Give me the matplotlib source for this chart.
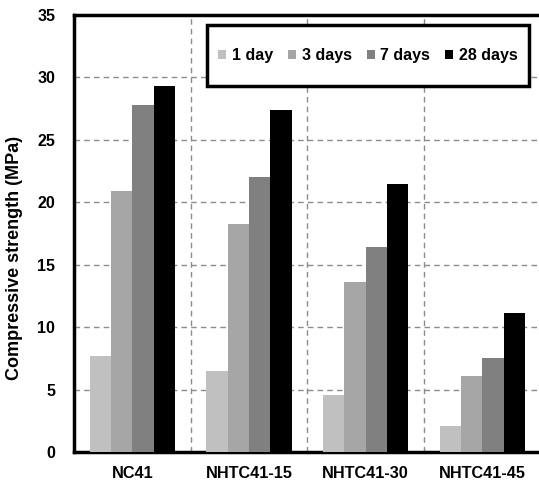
import numpy as np
import matplotlib
matplotlib.use('Agg')
import matplotlib.pyplot as plt
from matplotlib.patches import Rectangle

plt.rcParams['font.family'] = ['Liberation Sans', 'DejaVu Sans']
plt.rcParams['font.weight'] = 'bold'

mixes = ['NC41', 'NHTC41-15', 'NHTC41-30', 'NHTC41-45']
ages = ['1 day', '3 days', '7 days', '28 days']
strength_1d = [7.7, 6.5, 4.6, 2.1]
strength_3d = [20.9, 18.3, 13.6, 6.1]
strength_7d = [27.8, 22.0, 16.4, 7.5]
strength_28d = [29.3, 27.4, 21.5, 11.1]
colors = ['#c0c0c0', '#a6a6a6', '#808080', '#000000']

fig = plt.figure(figsize=(5.39, 4.84), dpi=100)
ax = fig.add_axes([74/539, 32/484, 466.7/539, 437/484])

x = np.arange(len(mixes))
w = 0.1825
series = [strength_1d, strength_3d, strength_7d, strength_28d]
for i, vals in enumerate(series):
    ax.bar(x + (i - 1.5) * w, vals, w, color=colors[i], label=ages[i], zorder=3)

ax.set_xlim(-0.5, 3.5)
ax.set_ylim(0, 35)
ax.set_yticks(range(0, 36, 5))
ax.set_xticks(x)
ax.set_xticklabels(mixes, fontsize=11.7, fontweight='bold')
ax.tick_params(axis='y', length=0, labelsize=11.5, pad=13.5)
ax.tick_params(axis='x', length=0, pad=10)
ax.set_ylabel('Compressive strength (MPa)', fontsize=13, fontweight='bold')
ax.yaxis.set_label_coords((23 - 74) / 466.7, (452 - 258) / 437)

ax.yaxis.grid(True, linestyle=(0, (4, 3)), color='#8c8c8c', linewidth=1, zorder=0)
for b in [0.5, 1.5, 2.5]:
    ax.axvline(b, linestyle=(0, (4, 3)), color='#8c8c8c', linewidth=1, zorder=0)

for s in ax.spines.values():
    s.set_linewidth(2.5)
    s.set_color('black')

# legend box drawn separately (more padding top/bottom than sides)
box = Rectangle((207/539, 1 - 86/484), 322/539, 61/484, transform=fig.transFigure,
                facecolor='white', edgecolor='black', linewidth=2.5, zorder=6,
                clip_on=False)
ax.add_patch(box)

leg = ax.legend(ncol=4, loc='center', bbox_to_anchor=(368/539, 1 - 55.5/484),
                bbox_transform=fig.transFigure, fontsize=11.5, frameon=False,
                handlelength=0.5, handleheight=0.5, handletextpad=0.35,
                columnspacing=0.95, borderpad=0, borderaxespad=0)
leg.set_zorder(7)

fig.savefig('out.png', dpi=100)
